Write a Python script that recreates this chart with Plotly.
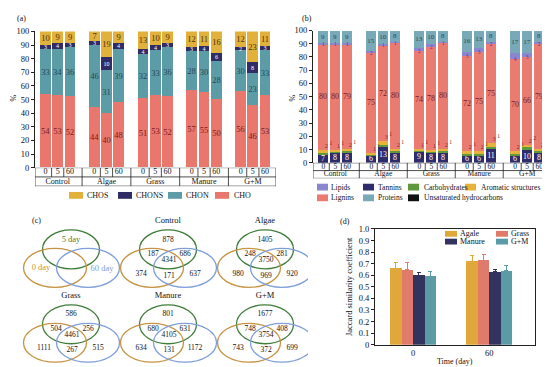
import plotly.graph_objects as go

W, H = 550, 367
FONT = 'Liberation Serif'

def px(x):
    return x / W

def py(y):
    return 1 - y / H

# ---------------- data ----------------
groups = ['Control', 'Algae', 'Grass', 'Manure', 'G+M']
days = ['0', '5', '60']

# panel (a) molecular formula classes (%)
cho = [54, 53, 52, 44, 40, 48, 51, 53, 52, 57, 55, 50, 56, 46, 53]
chon = [33, 34, 36, 46, 31, 39, 32, 33, 36, 28, 30, 28, 30, 23, 33]
chons = [3, 4, 3, 3, 10, 4, 4, 4, 3, 3, 4, 6, 2, 8, 3]
chos = [10, 9, 9, 7, 19, 9, 13, 10, 9, 12, 11, 16, 12, 23, 11]

# panel (b) compound classes (%)
tannins = [7, 8, 8, 6, 13, 8, 9, 8, 8, 6, 6, 11, 6, 10, 8]
carbohydrates = [1, 1, 1, 1, 1, 1, 1, 1, 1, 1, 1, 1, 1, 2, 1]
aromatic = [2, 1, 2, 1, 3, 2, 1, 1, 2, 2, 2, 3, 2, 2, 2]
unsaturated = [0, 0, 0, 0, 0, 0, 0, 0, 0, 0, 0, 0, 0, 0, 0]
lignins = [80, 80, 79, 75, 72, 80, 74, 78, 80, 72, 75, 75, 70, 66, 79]
lipids = [1, 1, 1, 2, 1, 1, 2, 2, 1, 3, 3, 2, 4, 3, 2]
proteins = [9, 9, 9, 15, 10, 8, 13, 10, 8, 16, 13, 8, 17, 17, 8]

# panel (c) Venn counts
venn_names = ['Control', 'Algae', 'Grass', 'Manure', 'G+M']
only5 = [878, 1405, 586, 801, 1677]
d0_5 = [187, 248, 504, 680, 748]
all3 = [4341, 3750, 4461, 4105, 3754]
d5_60 = [686, 281, 256, 631, 408]
only0 = [374, 980, 1111, 634, 743]
d0_60 = [171, 969, 267, 131, 372]
only60 = [637, 920, 515, 1172, 699]

# panel (d) Jaccard similarity
d_times = ['0', '60']
agale = [0.66, 0.72]
agale_err = [0.05, 0.05]
grass = [0.65, 0.73]
grass_err = [0.06, 0.05]
manure = [0.60, 0.63]
manure_err = [0.02, 0.02]
gm = [0.59, 0.64]
gm_err = [0.04, 0.04]

# ---------------- colours ----------------
CHO_C, CHON_C, CHONS_C, CHOS_C = '#E9776E', '#5C9CA6', '#2F2C66', '#E2B13C'
LIP_C, TAN_C, CARB_C, ARO_C = '#8A86CF', '#2E2C6A', '#5E9A3C', '#E8B33C'
LIG_C, PRO_C, UNS_C = '#EA7B70', '#79A9B8', '#111111'
G_C, O_C, B_C = '#3F7D3A', '#C69443', '#7E9FD9'

fig = go.Figure()

pos = [g * 4 + i for g in range(len(groups)) for i in range(len(days))]
gcent = [g * 4 + 1 for g in range(len(groups))]
XR = [-0.86, 18.9]

# ---------------- panel (a) ----------------
a_series = [('CHO', cho, CHO_C, '#7a1c1c', 8.5), ('CHON', chon, CHON_C, '#23495a', 8.5),
            ('CHONS', chons, CHONS_C, '#ffffff', 6), ('CHOS', chos, CHOS_C, '#4a3410', 8.5)]
for name, vals, col, tcol, ts in a_series:
    fig.add_trace(go.Bar(x=pos, y=vals, width=0.88, name=name,
                         marker=dict(color=col, line=dict(width=0)),
                         text=[str(v) for v in vals], textposition='inside',
                         insidetextanchor='middle', textangle=0, constraintext='none',
                         textfont=dict(family=FONT, size=ts, color=tcol),
                         xaxis='x', yaxis='y', showlegend=False, hoverinfo='skip'))

# ---------------- panel (b) ----------------
b_series = [('Tannins', tannins, TAN_C, '#ffffff', 8, True),
            ('Carbohydrates', carbohydrates, CARB_C, '#000', 6, False),
            ('Aromatic structures', aromatic, ARO_C, '#000', 6, False),
            ('Unsaturated hydrocarbons', unsaturated, UNS_C, '#000', 6, False),
            ('Lignins', lignins, LIG_C, '#7a1c1c', 8, True),
            ('Lipids', lipids, LIP_C, '#8a1f8f', 5.5, False),
            ('Proteins', proteins, PRO_C, '#23495a', 7, True)]
for name, vals, col, tcol, ts, lab in b_series:
    fig.add_trace(go.Bar(x=pos, y=vals, width=0.85, name=name,
                         marker=dict(color=col, line=dict(width=0)),
                         text=[str(v) for v in vals] if lab else None,
                         textposition='inside' if lab else 'none',
                         insidetextanchor='middle', textangle=0, constraintext='none',
                         textfont=dict(family=FONT, size=ts, color=tcol),
                         xaxis='x3', yaxis='y3', showlegend=False, hoverinfo='skip'))

# lipid labels sit at the lignin/lipid boundary
lig_top = [t + c + a + u + l for t, c, a, u, l in zip(tannins, carbohydrates, aromatic, unsaturated, lignins)]
fig.add_trace(go.Scatter(x=pos, y=[v - 0.8 for v in lig_top], mode='text',
                         text=[str(v) for v in lipids],
                         textfont=dict(family=FONT, size=5.5, color='#8a1f8f'),
                         xaxis='x3', yaxis='y3', showlegend=False, hoverinfo='skip', cliponaxis=False))

# small labels for thin segments in (b)
base_small = [t + c + a for t, c, a in zip(tannins, carbohydrates, aromatic)]
fig.add_trace(go.Scatter(x=[p + 0.25 for p in pos], y=[b + 2.2 for b in base_small], mode='text',
                         text=[str(v) for v in aromatic],
                         textfont=dict(family=FONT, size=5.5, color='#8b1a1a'),
                         xaxis='x3', yaxis='y3', showlegend=False, hoverinfo='skip', cliponaxis=False))
fig.add_trace(go.Scatter(x=[p + 0.62 for p in pos], y=[b + 4.5 for b in base_small], mode='text',
                         text=[str(v) for v in carbohydrates],
                         textfont=dict(family=FONT, size=5.5, color='#8b1a1a'),
                         xaxis='x3', yaxis='y3', showlegend=False, hoverinfo='skip', cliponaxis=False))

# ---------------- tables under (a) and (b) ----------------
shapes = []
for xa, ya, fs in (('x2', 'y2', 8), ('x4', 'y4', 7.5)):
    fig.add_trace(go.Scatter(x=pos, y=[1.5] * len(pos), mode='text',
                             text=[days[i % 3] for i in range(len(pos))],
                             textfont=dict(family=FONT, size=fs, color='#111'),
                             xaxis=xa, yaxis=ya, showlegend=False, hoverinfo='skip'))
    fig.add_trace(go.Scatter(x=gcent, y=[0.5] * len(gcent), mode='text', text=groups,
                             textfont=dict(family=FONT, size=fs, color='#111'),
                             xaxis=xa, yaxis=ya, showlegend=False, hoverinfo='skip'))
    ln = dict(color='#222', width=0.8)
    shapes.append(dict(type='rect', xref=xa, yref=ya, x0=XR[0], x1=XR[1], y0=0, y1=2, line=ln))
    shapes.append(dict(type='line', xref=xa, yref=ya, x0=XR[0], x1=XR[1], y0=1, y1=1, line=ln))
    for g in range(1, len(groups)):
        xb = g * 4 - 1
        shapes.append(dict(type='line', xref=xa, yref=ya, x0=xb, x1=xb, y0=0, y1=2, line=ln))
    for g in range(len(groups)):
        for k in (0.5, 1.5):
            xb = g * 4 + k
            shapes.append(dict(type='line', xref=xa, yref=ya, x0=xb, x1=xb, y0=1, y1=2, line=ln))

# ---------------- panel (c) Venn ----------------
cols = [63, 160, 257]
rows = [243, 320]
centers = [(cols[0], rows[0]), (cols[1], rows[0]), (cols[2], rows[0]),
           (cols[0], rows[1]), (cols[1], rows[1]), (cols[2], rows[1])]

def ell(cx, cy, w, h, col):
    return dict(type='circle', xref='x5', yref='y5', x0=cx - w / 2, x1=cx + w / 2,
                y0=cy - h / 2, y1=cy + h / 2, line=dict(color=col, width=1.3))

for (gx, gy) in centers:
    shapes.append(ell(gx, gy, 57, 40, G_C))
    shapes.append(ell(gx - 16, gy + 19, 63, 40, O_C))
    shapes.append(ell(gx + 17, gy + 19, 63, 40, B_C))

# generic key venn
gx, gy = centers[0]
fig.add_trace(go.Scatter(x=[gx, gx - 30, gx + 31], y=[gy - 10, gy + 19, gy + 20], mode='text',
                         text=['5 day', '0 day', '60 day'],
                         textfont=dict(family=FONT, size=8.5, color=[G_C, O_C, B_C]),
                         xaxis='x5', yaxis='y5', showlegend=False, hoverinfo='skip', cliponaxis=False))
offs = [(0, -10), (-15, 5), (1, 11), (17, 5), (-27, 25), (1, 27), (27, 25)]
vx, vy, vt = [], [], []
tx, ty = [], []
for k, name in enumerate(venn_names):
    cx, cy = centers[k + 1]
    vals = [only5[k], d0_5[k], all3[k], d5_60[k], only0[k], d0_60[k], only60[k]]
    for (ox, oy), v in zip(offs, vals):
        vx.append(cx + ox)
        vy.append(cy + oy)
        vt.append(str(v))
    tx.append(cx)
    ty.append(cy - 29)
fig.add_trace(go.Scatter(x=vx, y=vy, mode='text', text=vt,
                         textfont=dict(family=FONT, size=7.5, color='#111'),
                         xaxis='x5', yaxis='y5', showlegend=False, hoverinfo='skip', cliponaxis=False))
fig.add_trace(go.Scatter(x=tx, y=ty, mode='text', text=venn_names,
                         textfont=dict(family=FONT, size=8.5, color='#111'),
                         xaxis='x5', yaxis='y5', showlegend=False, hoverinfo='skip', cliponaxis=False))

# ---------------- panel (d) ----------------
d_series = [('Agale', agale, agale_err, '#E0A83A'), ('Grass', grass, grass_err, '#E07A6A'),
            ('Manure', manure, manure_err, '#33335F'), ('G+M', gm, gm_err, '#5A9BA5')]
bw = 0.15
for i, (name, vals, err, col) in enumerate(d_series):
    off = (i - 1.5) * bw
    fig.add_trace(go.Bar(x=[j + off for j in range(len(d_times))], y=vals, width=bw, name=name,
                         marker=dict(color=col, line=dict(width=0)),
                         error_y=dict(type='data', array=err, arrayminus=[0] * len(err),
                                      symmetric=False, color=col, thickness=1, width=2),
                         xaxis='x6', yaxis='y6', showlegend=False, hoverinfo='skip'))

# ---------------- custom legends ----------------
annotations = []

def txt(x, y, s, size=8, color='#111', xanchor='left', angle=0):
    annotations.append(dict(x=px(x), y=py(y), xref='paper', yref='paper', text=s, showarrow=False,
                            xanchor=xanchor, yanchor='middle', textangle=angle,
                            font=dict(family=FONT, size=size, color=color)))

def swatch(x0, y0, w, h, col):
    shapes.append(dict(type='rect', xref='paper', yref='paper', x0=px(x0), x1=px(x0 + w),
                       y0=py(y0 + h), y1=py(y0), fillcolor=col, line=dict(width=0)))

# legend (a)
for (sx, tx_, lab, col) in [(61, 77, 'CHOS', CHOS_C), (110, 126, 'CHONS', CHONS_C),
                            (160, 176, 'CHON', CHON_C), (207, 224, 'CHO', CHO_C)]:
    swatch(sx, 184, 14, 7, col)
    txt(tx_, 187.5, lab, size=8)

# legend (b)
for (sx, tx_, y, lab, col) in [(309, 321, 179, 'Lipids', LIP_C), (355, 368, 179, 'Tannins', TAN_C),
                               (400, 414, 179, 'Carbohydrates', CARB_C),
                               (457, 471, 179, 'Aromatic structures', ARO_C),
                               (309, 321, 190, 'Lignins', LIG_C), (355, 368, 190, 'Proteins', PRO_C),
                               (400, 414, 190, 'Unsaturated hydrocarbons', UNS_C)]:
    swatch(sx, y - 3.5, 11, 7, col)
    txt(tx_, y, lab, size=7.5)

# legend (d)
for (sx, tx_, y, lab, col) in [(437, 450, 227, 'Agale', '#E0A83A'), (488, 501, 227, 'Grass', '#E07A6A'),
                               (437, 450, 235, 'Manure', '#33335F'), (488, 501, 235, 'G+M', '#5A9BA5')]:
    swatch(sx, y - 3, 12, 6, col)
    txt(tx_, y, lab, size=8)

# panel letters and axis titles
txt(7, 6, '(a)')
txt(292, 6, '(b)')
txt(22, 213, '(c)')
txt(330, 214, '(d)')
txt(6, 88, '%', angle=-90, xanchor='center')
txt(285, 88, '%', angle=-90, xanchor='center')
txt(447, 358, 'Time (day)', xanchor='center')

# ---------------- axes ----------------
tickf = dict(family=FONT, size=8.5, color='#111')
hidden = dict(visible=False, showgrid=False, zeroline=False)
fig.update_layout(
    width=W, height=H, margin=dict(l=0, r=0, t=0, b=0),
    paper_bgcolor='white', plot_bgcolor='white', barmode='stack', bargap=0,
    showlegend=False, font=dict(family=FONT, size=8.5, color='#111'),
    xaxis=dict(domain=[px(27), px(268)], range=XR, anchor='y', **hidden),
    yaxis=dict(domain=[py(159), py(19)], range=[0, 100], anchor='x', showline=True,
               linecolor='#222', linewidth=1, ticks='outside', ticklen=3, tickcolor='#222',
               dtick=10, tickfont=tickf, showgrid=False, zeroline=False),
    xaxis2=dict(domain=[px(27), px(268)], range=XR, anchor='y2', **hidden),
    yaxis2=dict(domain=[py(178), py(159)], range=[0, 2], anchor='x2', **hidden),
    xaxis3=dict(domain=[px(305), px(542)], range=XR, anchor='y3', **hidden),
    yaxis3=dict(domain=[py(154), py(18)], range=[0, 100], anchor='x3', showline=True,
                linecolor='#222', linewidth=1, ticks='outside', ticklen=3, tickcolor='#222',
                dtick=10, tickfont=tickf, showgrid=False, zeroline=False),
    xaxis4=dict(domain=[px(305), px(542)], range=XR, anchor='y4', **hidden),
    yaxis4=dict(domain=[py(170), py(154)], range=[0, 2], anchor='x4', **hidden),
    xaxis5=dict(domain=[0, px(300)], range=[0, 300], anchor='y5', **hidden),
    yaxis5=dict(domain=[0, py(195)], range=[367, 195], anchor='x5', **hidden),
    xaxis6=dict(domain=[px(367), px(527)], range=[-0.5, 1.6], anchor='y6', showline=True,
                mirror=True, linecolor='#222', linewidth=1, tickvals=list(range(len(d_times))),
                ticktext=d_times, ticks='', tickfont=tickf, showgrid=False, zeroline=False),
    yaxis6=dict(domain=[py(341), py(222)], range=[0, 1.0], anchor='x6', showline=True,
                mirror=True, linecolor='#222', linewidth=1, ticks='outside', ticklen=3,
                tickcolor='#222', tickvals=[i / 10 for i in range(11)],
                ticktext=['0'] + ['%.1f' % (i / 10) for i in range(1, 11)],
                tickfont=tickf, showgrid=False, zeroline=False,
                title=dict(text='Jaccard similarity coefficient', font=tickf, standoff=4)),
    shapes=shapes, annotations=annotations,
)

fig.write_html('out.html')
